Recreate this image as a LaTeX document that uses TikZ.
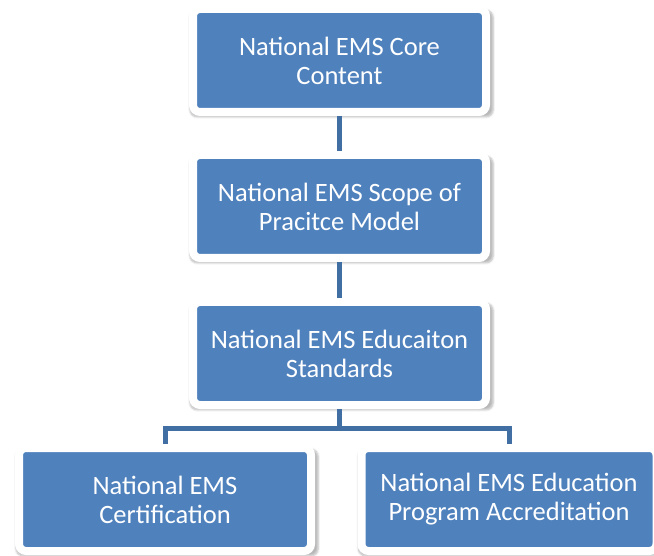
\documentclass[tikz,border=0pt]{standalone}
\usepackage{fontspec}
\setmainfont{Carlito}
\usepackage{xcolor}
\usetikzlibrary{positioning,calc,shadows.blur}
\definecolor{emsblue}{RGB}{79,129,189}
\definecolor{emsline}{RGB}{66,111,163}

\begin{document}
\begin{tikzpicture}[x=1pt, y=-1pt,
  tier/.style={fill=emsblue, draw=white, line width=8pt, rounded corners=7pt,
               minimum width=293pt, minimum height=103pt, align=center,
               text=white, font=\fontsize{26.5}{29}\selectfont,
               blur shadow={shadow xshift=2pt, shadow yshift=-3pt, shadow scale=1.035,
                            shadow opacity=28, shadow blur steps=6}},
  line/.style={draw=emsline, line width=5pt},
]
\useasboundingbox (0,0) rectangle (654,556);

\node[tier] (core) at (339.5,60.5) {National EMS Core\\Content};
\node[tier] (scope) at (339.5,206.5) {National EMS Scope of\\Pracitce Model};
\node[tier] (std) at (339.5,353.5) {National EMS Educaiton\\Standards};
\node[tier, minimum width=292pt] (cert) at (165,499.5) {National EMS\\Certification};
\node[tier, minimum width=295pt] (accr) at (509,499.5) {National EMS Education\\Program Accreditation};

\draw[line] (core) -- (scope);
\draw[line] (scope) -- (std);
\coordinate (split) at (339.5,428);
\draw[line] (std) -- (split);
\draw[line] (cert.north) |- (split) -| (accr.north);
\end{tikzpicture}
\end{document}
